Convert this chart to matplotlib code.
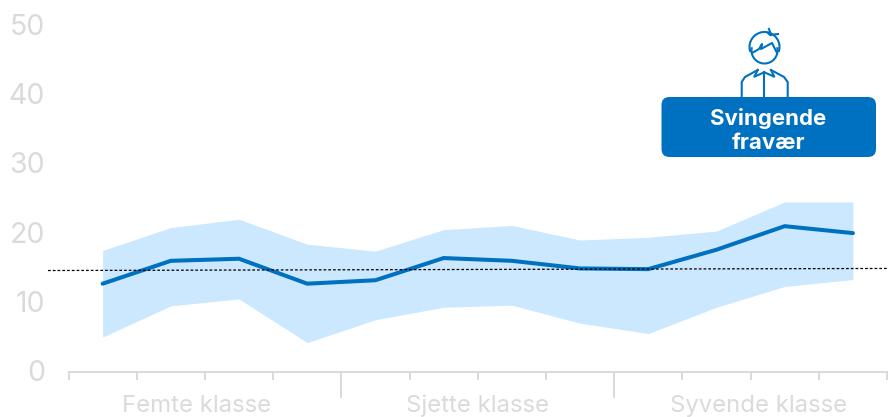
import numpy as np
import matplotlib
matplotlib.use("Agg")
import matplotlib.pyplot as plt
from matplotlib.patches import FancyBboxPatch
from matplotlib.transforms import ScaledTranslation

plt.rcParams["font.family"] = ["Inter", "DejaVu Sans"]

W, H = 889, 417
BLUE = "#0070C0"
BAND = "#CCE8FF"
GREY = "#DADADA"
AXIS = "#D9D9D9"

# values
periods = np.arange(12)
mean_values = [12.7, 16.0, 16.3, 12.7, 13.2, 16.4, 16.0, 14.9, 14.8, 17.6, 21.0, 20.0]
upper_values = [17.5, 20.8, 22.0, 18.4, 17.4, 20.5, 21.1, 19.0, 19.4, 20.3, 24.5, 24.5]
lower_values = [5.0, 9.5, 10.5, 4.2, 7.5, 9.3, 9.6, 7.0, 5.5, 9.3, 12.3, 13.3]
ref_x = [-0.8, 11.5]
ref_y = [14.6, 14.9]
y_ticks = [0, 10, 20, 30, 40, 50]
group_labels = ["Femte klasse", "Sjette klasse", "Syvende klasse"]
group_pos = [1.38, 5.5, 9.62]
major_ticks = [3.5, 7.5]
minor_ticks = [-0.5, 0.5, 1.5, 2.5, 4.5, 5.5, 6.5, 8.5, 9.5, 10.5, 11.5]

fig = plt.figure(figsize=(W / 100, H / 100), dpi=100)
left, right, bottom, top = 68.5, 887, 371.7, 25.2
ax = fig.add_axes([left / W, 1 - bottom / H, (right - left) / W, (bottom - top) / H])
ax.set_xlim(-0.5, 11.5)
ax.set_ylim(0, 50)

ax.fill_between(periods, lower_values, upper_values, color=BAND, linewidth=0, zorder=1)
ax.plot(periods, mean_values, color=BLUE, linewidth=2.9, solid_capstyle="round",
        solid_joinstyle="miter", zorder=2)
ax.plot(ref_x, ref_y, color="black", linewidth=0.9, linestyle=(0, (2.2, 1.6)),
        clip_on=False, zorder=3)

for side in ["top", "right", "left"]:
    ax.spines[side].set_visible(False)
ax.spines["bottom"].set_color(AXIS)
ax.spines["bottom"].set_linewidth(1.4)

ax.set_yticks(y_ticks)
ax.tick_params(axis="y", length=0, pad=17, labelsize=20.5, labelcolor=GREY)
for tick in ax.get_yticklabels():
    tick.set_transform(tick.get_transform() + ScaledTranslation(0, 1 / 100, fig.dpi_scale_trans))
ax.set_xticks(major_ticks)
ax.set_xticklabels([])
ax.set_xticks(minor_ticks, minor=True)
ax.tick_params(axis="x", which="major", length=19, width=1.4, color=AXIS)
ax.tick_params(axis="x", which="minor", length=6, width=1.4, color=AXIS)

for label, pos in zip(group_labels, group_pos):
    ax.annotate(label, (pos, 0), xytext=(0, -34.5 * 0.72), textcoords="offset points",
                ha="center", va="center", fontsize=17.2, color=GREY)

# overlay in pixel coordinates for the callout and the icon
ov = fig.add_axes([0, 0, 1, 1])
ov.set_xlim(0, W)
ov.set_ylim(H, 0)
ov.axis("off")
ov.patch.set_alpha(0)

ov.add_patch(FancyBboxPatch((661.5, 97), 214.5, 60, boxstyle="round,pad=0,rounding_size=8",
                            facecolor=BLUE, edgecolor="none", zorder=3))
ov.text(768, 118, "Svingende", color="white", fontsize=16, fontweight="bold",
        ha="center", va="center", zorder=4)
ov.text(768, 143, "fravær", color="white", fontsize=16, fontweight="bold",
        ha="center", va="center", zorder=4)

# person icon
lw = 1.5
t = np.radians(np.linspace(165, 375, 60))
ov.plot(764.5 + 15 * np.cos(t), 47 + 15 * np.sin(t), color=BLUE, lw=lw)
t = np.radians(np.linspace(-10, 190, 60))
ov.plot(764.5 + 13 * np.cos(t), 50.5 + 13 * np.sin(t), color=BLUE, lw=lw)
ov.plot([752, 759, 762, 761, 772, 777], [53, 49, 44, 49, 43, 53], color=BLUE, lw=lw)
ov.plot([768, 770, 778], [33, 35, 34], color=BLUE, lw=lw)
ov.plot([769, 771], [29, 35], color=BLUE, lw=lw)
# shoulders and collar
ov.plot([741.7, 741.7, 745, 757.7], [96, 82, 77, 70], color=BLUE, lw=lw)
ov.plot([787.7, 787.7, 784, 771], [96, 82, 77, 70], color=BLUE, lw=lw)
ov.plot([757.7, 754.3, 764.3, 774.3, 771], [70, 76.7, 72.3, 76.7, 70], color=BLUE, lw=lw)
ov.plot([764.3, 764.3], [72.3, 96], color=BLUE, lw=lw)

fig.savefig("out.png", dpi=100, facecolor="white")
